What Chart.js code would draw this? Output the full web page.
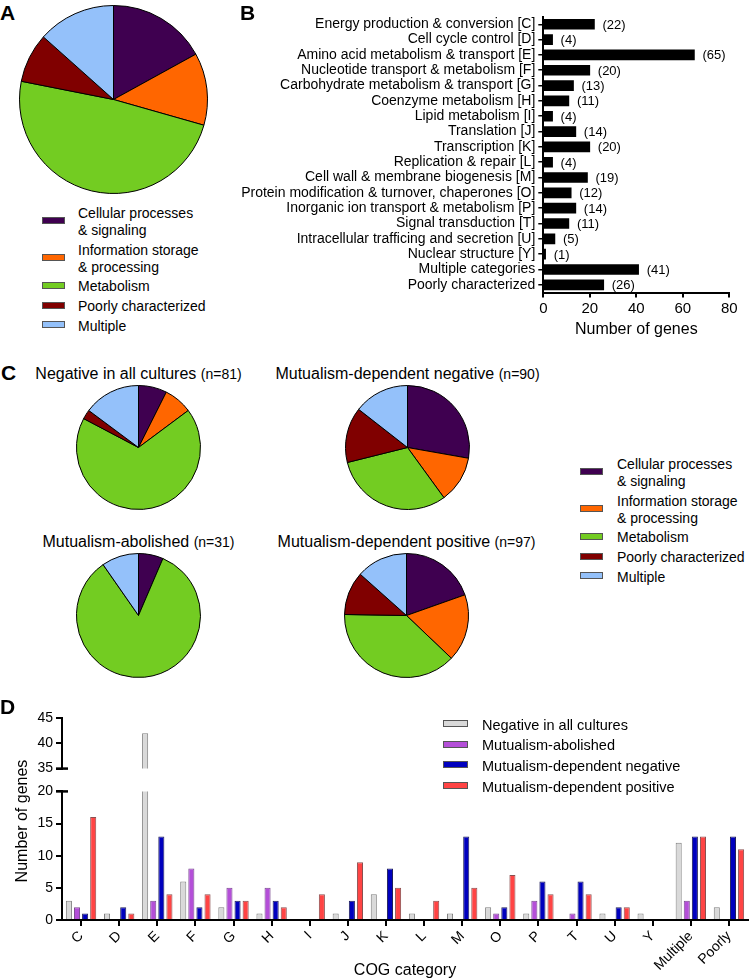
<!DOCTYPE html>
<html>
<head>
<meta charset="utf-8">
<script src="https://cdn.jsdelivr.net/npm/chart.js@4/dist/chart.umd.min.js"></script>
<style>
  html, body { margin:0; padding:0; }
  body { width:750px; height:980px; position:relative; overflow:hidden; background:#fff;
         font-family:"Liberation Sans", Arial, sans-serif; color:#000; }
  canvas { position:absolute; }
  .t { position:absolute; white-space:nowrap; }
  .box { position:absolute; box-sizing:border-box; border:1px solid #555; }
</style>
</head>
<body>
<canvas id="pieA" width="189" height="189" style="left:19px;top:5px"></canvas>
<canvas id="barB" width="510" height="339" style="left:240px;top:0px"></canvas>
<canvas id="pieC1" width="125" height="125" style="left:76px;top:385px"></canvas>
<canvas id="pieC2" width="125" height="125" style="left:345px;top:385px"></canvas>
<canvas id="pieC3" width="125" height="125" style="left:76px;top:553px"></canvas>
<canvas id="pieC4" width="125" height="125" style="left:344px;top:553px"></canvas>
<canvas id="barDTop" width="750" height="80" style="left:0px;top:700px"></canvas>
<canvas id="barDBot" width="750" height="200" style="left:0px;top:780px"></canvas>

<script>
// ---------------- DATA ----------------
const cogCodes = ['C','D','E','F','G','H','I','J','K','L','M','O','P','T','U','Y','Multiple','Poorly'];
const cogNames = [
  'Energy production & conversion [C]',
  'Cell cycle control [D]',
  'Amino acid metabolism & transport [E]',
  'Nucleotide transport & metabolism [F]',
  'Carbohydrate metabolism & transport [G]',
  'Coenzyme metabolism [H]',
  'Lipid metabolism [I]',
  'Translation [J]',
  'Transcription [K]',
  'Replication & repair [L]',
  'Cell wall & membrane biogenesis [M]',
  'Protein modification & turnover, chaperones [O]',
  'Inorganic ion transport & metabolism [P]',
  'Signal transduction [T]',
  'Intracellular trafficing and secretion [U]',
  'Nuclear structure [Y]',
  'Multiple categories',
  'Poorly characterized'
];
const cogTotals = [22,4,65,20,13,11,4,14,20,4,19,12,14,11,5,1,41,26];
const ticksB = [0,20,40,60,80];

const classNames = ['Cellular processes & signaling','Information storage & processing','Metabolism','Poorly characterized','Multiple'];
const classAll       = [52,38,149,26,41];
const classNegAll    = [6,6,55,2,12];
const classAbolished = [2,0,26,0,3];
const classDepNeg    = [25,11,28,13,13];
const classDepPos    = [19,17,37,11,13];

const groupNames = ['Negative in all cultures','Mutualism-abolished','Mutualism-dependent negative','Mutualism-dependent positive'];
const groupN = [81,31,90,97];
const negAll    = [3,1,42,6,2,1,0,1,4,1,1,2,1,0,1,1,12,2];
const abolished = [2,0,3,8,5,5,0,0,0,0,0,1,3,1,0,0,3,0];
const depNeg    = [1,2,13,2,3,3,0,3,8,0,13,2,6,6,2,0,13,13];
const depPos    = [16,1,4,4,3,2,4,9,5,3,5,7,4,4,2,0,13,11];
const ticksDUpper = [35,40,45];
const ticksDLower = [0,5,10,15,20];

// ---------------- STYLES ----------------
const FONT = '"Liberation Sans", Arial, sans-serif';
const classColors = ['#3F0050','#FF6600','#73CC22','#800000','#94C1FA'];
const groupColors = ['#D9D9D9','#B44FD8','#0000BE','#FF4444'];
const groupBorders = ['#808080','#7a4a90','#20205a','#8a5050'];

Chart.defaults.font.family = FONT;
Chart.defaults.color = '#000';
Chart.defaults.animation = false;
Chart.defaults.plugins.legend.display = false;
Chart.defaults.plugins.tooltip.enabled = false;

// ---------------- HTML TEXT HELPERS ----------------
function addText(parts, x, baseline, size, align, weight) {
  const d = document.createElement('div');
  d.className = 't';
  d.style.fontSize = size + 'px';
  d.style.lineHeight = size + 'px';
  if (weight) d.style.fontWeight = weight;
  (Array.isArray(parts) ? parts : [[parts, size]]).forEach(([txt, s]) => {
    const sp = document.createElement('span');
    sp.textContent = txt;
    sp.style.fontSize = s + 'px';
    d.appendChild(sp);
  });
  d.style.top = (baseline - 0.8465 * size) + 'px';
  if (align === 'center') {
    d.style.left = (x - 200) + 'px';
    d.style.width = '400px';
    d.style.textAlign = 'center';
  } else {
    d.style.left = x + 'px';
  }
  document.body.appendChild(d);
  return d;
}
function addBox(x, cy, w, h, color) {
  const b = document.createElement('div');
  b.className = 'box';
  b.style.left = x + 'px';
  b.style.top = (cy - h / 2) + 'px';
  b.style.width = w + 'px';
  b.style.height = h + 'px';
  b.style.background = color;
  document.body.appendChild(b);
}
function pieLegend(x, firstBaseline, textOffset) {
  const LH = 16.8, GAP = 3;
  let b = firstBaseline;
  classNames.forEach((name, i) => {
    const lines = name.split(/ (?=& )/);
    const last = b + (lines.length - 1) * LH;
    addBox(x, (b + last) / 2 - 6, 23, 7, classColors[i]);
    lines.forEach((ln, j) => addText(ln, x + textOffset, b + j * LH, 14));
    b = last + LH + GAP;
  });
}

// panel letters
addText('A', 0, 20, 21, null, 'bold');
addText('B', 240, 20, 21, null, 'bold');
addText('C', 1, 380, 21, null, 'bold');
addText('D', 0, 714, 21, null, 'bold');

// legends
pieLegend(42, 218, 36);
pieLegend(580, 469, 37);
groupNames.forEach((g, i) => {
  const bl = 730 + i * 20.6;
  addBox(443, bl - 6.3, 25, 7, groupColors[i]);
  addText(g, 482, bl, 14.5);
});

// C titles
const cTitlePos = [[138.5,380],[138.5,548],[407.5,380],[406.5,548]];
groupNames.forEach((g, i) => {
  const [cx, bl] = cTitlePos[i];
  addText([[g + ' ', 16], ['(n=' + groupN[i] + ')', 14]], cx, bl, 16, 'center');
});

// D y-axis title (rotated)
(function(){
  const d = document.createElement('div');
  d.className = 't';
  d.textContent = 'Number of genes';
  d.style.fontSize = '16px';
  d.style.lineHeight = '16px';
  d.style.width = '160px';
  d.style.textAlign = 'center';
  d.style.left = (22 - 80) + 'px';
  d.style.top = (821 - 8) + 'px';
  d.style.transform = 'rotate(-90deg)';
  d.style.transformOrigin = '50% 50%';
  document.body.appendChild(d);
})();

// ---------------- PIES ----------------
function makePie(id, data) {
  new Chart(document.getElementById(id), {
    type: 'pie',
    data: { labels: classNames, datasets: [{ data, backgroundColor: classColors, borderColor: '#000', borderWidth: 1 }] },
    options: { responsive: false, devicePixelRatio: 1, layout: { padding: 0 } }
  });
}
makePie('pieA', classAll);
makePie('pieC1', classNegAll);
makePie('pieC2', classDepNeg);
makePie('pieC3', classAbolished);
makePie('pieC4', classDepPos);

// ---------------- PANEL B ----------------
const valueLabels = {
  id: 'valueLabels',
  afterDatasetsDraw(chart) {
    const ctx = chart.ctx;
    const meta = chart.getDatasetMeta(0);
    ctx.save();
    ctx.font = '13px ' + FONT;
    ctx.fillStyle = '#000';
    ctx.textBaseline = 'middle';
    meta.data.forEach((bar, i) => {
      ctx.fillText('(' + chart.data.datasets[0].data[i] + ')', bar.x + 8, bar.y + 1);
    });
    ctx.restore();
  }
};
new Chart(document.getElementById('barB'), {
  type: 'bar',
  data: { labels: cogNames, datasets: [{ data: cogTotals, backgroundColor: '#000', barThickness: 10 }] },
  options: {
    indexAxis: 'y', responsive: false, devicePixelRatio: 1,
    layout: { padding: { top: 16.6, right: 20.7, bottom: 0, left: 0 } },
    scales: {
      y: {
        afterFit(s) { s.width = 303.3; },
        grid: { display: true, drawOnChartArea: false, offset: false, tickLength: 5, color: '#000', lineWidth: 1.5 },
        border: { display: true, color: '#000', width: 2 },
        ticks: { autoSkip: false, font: { size: 14 }, color: '#000', padding: 3 }
      },
      x: {
        min: 0, max: 80,
        afterBuildTicks(s) { s.ticks = ticksB.map(v => ({ value: v })); },
        afterFit(s) { s.height = 46.5; },
        grid: { display: true, drawOnChartArea: false, tickLength: 5, color: '#000', lineWidth: 2 },
        border: { display: true, color: '#000', width: 2 },
        ticks: { font: { size: 15 }, color: '#000', padding: 2 },
        title: { display: true, text: 'Number of genes', font: { size: 16 }, color: '#000', padding: 0 }
      }
    }
  },
  plugins: [valueLabels]
});

// ---------------- PANEL D ----------------
function dDatasets() {
  return [negAll, abolished, depNeg, depPos].map((arr, i) => ({
    label: groupNames[i], data: arr,
    backgroundColor: groupColors[i], borderColor: groupBorders[i], borderWidth: 1,
    barPercentage: 0.75, categoryPercentage: 0.85, clip: 0
  }));
}
function breakMark(atTop) {
  return {
    id: 'breakMark',
    afterDraw(chart) {
      const { ctx, chartArea } = chart;
      const y = atTop ? chartArea.top : chartArea.bottom;
      ctx.save();
      ctx.strokeStyle = '#000';
      ctx.lineWidth = 2.5;
      ctx.beginPath();
      ctx.moveTo(chartArea.left - 6, y);
      ctx.lineTo(chartArea.left + 6, y);
      ctx.stroke();
      ctx.restore();
    }
  };
}
const yCommon = {
  afterFit(s) { s.width = 62; },
  grid: { display: true, drawOnChartArea: false, tickLength: 6, color: '#000', lineWidth: 2 },
  border: { display: true, color: '#000', width: 2 },
  ticks: { font: { size: 14 }, color: '#000', padding: 3 }
};
new Chart(document.getElementById('barDTop'), {
  type: 'bar',
  data: { labels: cogCodes, datasets: dDatasets() },
  options: {
    responsive: false, devicePixelRatio: 1,
    layout: { padding: { top: 18, right: 2, bottom: 8, left: 0 } },
    scales: {
      x: { display: false },
      y: Object.assign({}, yCommon, {
        min: 35, max: 45,
        afterBuildTicks(s) { s.ticks = ticksDUpper.map(v => ({ value: v })); }
      })
    }
  },
  plugins: [breakMark(false)]
});
new Chart(document.getElementById('barDBot'), {
  type: 'bar',
  data: { labels: cogCodes, datasets: dDatasets() },
  options: {
    responsive: false, devicePixelRatio: 1,
    layout: { padding: { top: 9, right: 2, bottom: 0, left: 0 } },
    scales: {
      x: {
        afterFit(s) { s.height = 60; },
        grid: { display: true, drawOnChartArea: false, offset: false, tickLength: 6, color: '#000', lineWidth: 2 },
        border: { display: true, color: '#000', width: 2 },
        ticks: { autoSkip: false, minRotation: 45, maxRotation: 45, font: { size: 14 }, color: '#000', padding: 2 },
        title: { display: true, text: 'COG category', font: { size: 16 }, color: '#000', padding: 0 }
      },
      y: Object.assign({}, yCommon, {
        min: 0, max: 20,
        afterBuildTicks(s) { s.ticks = ticksDLower.map(v => ({ value: v })); }
      })
    }
  },
  plugins: [breakMark(true)]
});
</script>
</body>
</html>
